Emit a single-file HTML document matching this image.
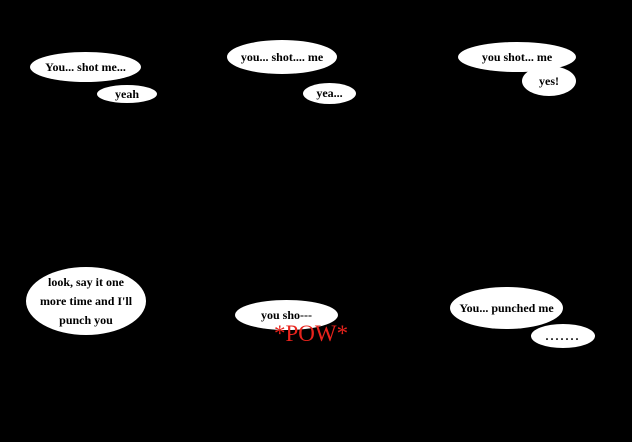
<html><body style="margin:0;background:#000;width:632px;height:442px;overflow:hidden;position:relative;font-family:'Liberation Serif',serif;font-weight:bold;font-size:12px;color:#000">
<style>.e{position:absolute;background:#fff;border-radius:50%;display:flex;align-items:center;justify-content:center;text-align:center;line-height:19px}</style>
<div class="e" style="left:30px;top:52px;width:111px;height:30px">You... shot me...</div>
<div class="e" style="left:97px;top:85px;width:60px;height:18px">yeah</div>
<div class="e" style="left:227px;top:40px;width:110px;height:34px">you... shot.... me</div>
<div class="e" style="left:303px;top:83px;width:53px;height:21px">yea...</div>
<div class="e" style="left:458px;top:42px;width:118px;height:30px">you shot... me</div>
<div class="e" style="left:522px;top:66px;width:54px;height:30px">yes!</div>
<div class="e" style="left:26px;top:267px;width:120px;height:68px">look, say it one<br>more time and I'll<br>punch you</div>
<div class="e" style="left:235px;top:300px;width:103px;height:30px">you sho---</div>
<div style="position:absolute;left:274px;top:321px;color:#e8231c;font-size:23px;font-weight:normal">*POW*</div>
<div class="e" style="left:450px;top:287px;width:113px;height:42px">You... punched me</div>
<div class="e" style="left:531px;top:324px;width:64px;height:24px;letter-spacing:2px">.......</div>
</body></html>
